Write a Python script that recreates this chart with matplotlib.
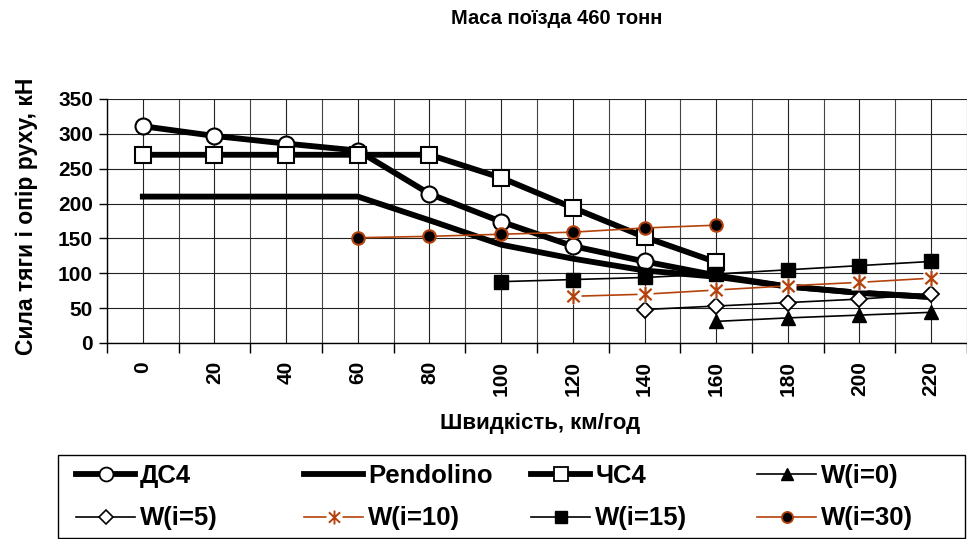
import numpy as np
import matplotlib
matplotlib.use("Agg")
import matplotlib.pyplot as plt
from matplotlib.lines import Line2D
from matplotlib.patches import Rectangle
from matplotlib.path import Path

plt.rcParams['font.family'] = ['Liberation Sans', 'DejaVu Sans']
plt.rcParams['font.weight'] = 'bold'

nan = np.nan

# speed categories, km/h
speeds = ['0', '20', '40', '60', '80', '100', '120', '140', '160', '180', '200', '220']

# traction force of the locomotives, kN
ds4 = [311, 297, 286, 276, 214, 174, 139, 117, 97, 81, 72, 66]
pendolino = [210, 210, 210, 210, 176, 141, 121, 104, 95, 81, 72, 66]
chs4 = [270, 270, 270, 270, 270, 237, 194, 152, 116, nan, nan, nan]

# running resistance for different gradients, kN
w0 = [nan, nan, nan, nan, nan, nan, nan, nan, 31, 36, 40, 44]
w5 = [nan, nan, nan, nan, nan, nan, nan, 48, 53, 58, 63, 70]
w10 = [nan, nan, nan, nan, nan, nan, 67, 70, 76, 82, 87, 93]
w15 = [nan, nan, nan, nan, nan, 88, 91, 94, 99, 105, 111, 117]
w30 = [nan, nan, nan, 151, 153, 156, 159, 165, 169, nan, nan, nan]

ORANGE = '#B4420C'
THICK = 4.2
THIN = 1.2

# asterisk marker: vertical stroke plus a cross
star = Path([(0, -1), (0, 1), (-0.8, -0.75), (0.8, 0.75), (-0.8, 0.75), (0.8, -0.75)],
            [Path.MOVETO, Path.LINETO] * 3)

fig = plt.figure(figsize=(9.67, 5.39), dpi=100)
ax = fig.add_axes([107 / 967, 1 - 343 / 539, (967 - 107) / 967, 244 / 539])

x = np.arange(len(speeds))

ax.plot(x, ds4, color='black', lw=THICK, marker='o', ms=11.5, mfc='white',
        mec='black', mew=1.5, markevery=slice(0, 8), zorder=3)
ax.plot(x, pendolino, color='black', lw=THICK, zorder=3)
ax.plot(x, chs4, color='black', lw=THICK, marker='s', ms=11.5, mfc='white',
        mec='black', mew=1.5, zorder=3)
ax.plot(x, w0, color='black', lw=THIN, marker='^', ms=9.5, mfc='black',
        mec='black', zorder=4)
ax.plot(x, w5, color='black', lw=THIN, marker='D', ms=8, mfc='white',
        mec='black', mew=1.3, zorder=4)
ax.plot(x, w10, color=ORANGE, lw=THIN, zorder=5)
ax.plot(x, w10, ls='none', marker='s', ms=12, mfc='white', mec='none', zorder=5)
ax.plot(x, w10, ls='none', marker=star, ms=11, mfc='none', mec=ORANGE, mew=1.6,
        zorder=5)
ax.plot(x, w15, color='black', lw=THIN, marker='s', ms=9.5, mfc='black',
        mec='black', zorder=6)
ax.plot(x, w30, color=ORANGE, lw=THIN, marker='o', ms=9, mfc='black',
        mec=ORANGE, mew=1.5, zorder=7)

ax.set_xlim(-0.5, len(speeds) - 0.63)
ax.set_ylim(0, 350)
ax.set_yticks(np.arange(0, 351, 50))
ax.set_xticks(x)
ax.set_xticklabels(speeds, rotation=90, fontsize=15, fontweight='bold')
ax.set_xticks(np.arange(-0.5, len(speeds), 1), minor=True)
ax.tick_params(axis='x', which='major', length=0, pad=13)
ax.tick_params(axis='x', which='minor', length=7, width=1, direction='out')
ax.tick_params(axis='y', length=6, width=1, direction='out', pad=4, labelsize=15)
for lbl in ax.get_yticklabels():
    lbl.set_fontweight('bold')

ax.grid(True, which='major', color='#222222', lw=0.8, zorder=0)
ax.grid(True, which='minor', axis='x', color='#444444', lw=0.8, zorder=0)
ax.set_axisbelow(True)
for side in ('top', 'right'):
    ax.spines[side].set_visible(False)
ax.spines['left'].set_linewidth(1)
ax.spines['bottom'].set_linewidth(1)

ax.set_xlabel('Швидкість, км/год', fontsize=16, fontweight='bold')
ax.xaxis.set_label_coords(0.503, -0.285)
ax.set_ylabel('Сила тяги і опір руху, кН', fontsize=16.5, fontweight='bold')
ax.yaxis.set_label_coords(-0.08, 0.52)

fig.text(557 / 967, 1 - 18 / 539, 'Маса поїзда 460 тонн', ha='center', va='center',
         fontsize=14.5, fontweight='bold')

# legend handles
h_ds4 = Line2D([], [], color='black', lw=THICK, marker='o', ms=10, mfc='white',
               mec='black', mew=1.3)
h_pend = Line2D([], [], color='black', lw=THICK)
h_chs4 = Line2D([], [], color='black', lw=THICK, marker='s', ms=10, mfc='white',
                mec='black', mew=1.3)
h_w0 = Line2D([], [], color='black', lw=THIN, marker='^', ms=8.5, mfc='black')
h_w5 = Line2D([], [], color='black', lw=THIN, marker='D', ms=7.5, mfc='white',
              mec='black', mew=1.2)
h_w10 = (Line2D([], [], color=ORANGE, lw=THIN),
         Line2D([], [], ls='none', marker='s', ms=12, mfc='white', mec='none'),
         Line2D([], [], ls='none', marker=star, ms=10, mec=ORANGE, mew=1.4))
h_w15 = Line2D([], [], color='black', lw=THIN, marker='s', ms=8.5, mfc='black')
h_w30 = Line2D([], [], color=ORANGE, lw=THIN, marker='o', ms=8, mfc='black',
               mec=ORANGE, mew=1.3)

columns = [([h_ds4, h_w5], ['ДС4', 'W(i=5)']),
           ([h_pend, h_w10], ['Pendolino', 'W(i=10)']),
           ([h_chs4, h_w15], ['ЧС4', 'W(i=15)']),
           ([h_w0, h_w30], ['W(i=0)', 'W(i=30)'])]
col_x = [76, 304, 531, 757]
for (handles, labels), cx in zip(columns, col_x):
    fig.legend(handles, labels, loc='upper left',
               bbox_to_anchor=(cx / 967, 1 - 464 / 539), frameon=False,
               borderpad=0, borderaxespad=0, handlelength=2.3, handletextpad=0.2,
               labelspacing=0.72, prop={'size': 18.5, 'weight': 'bold'})

fig.add_artist(Rectangle((58 / 967, 1 / 539), 907 / 967, 83 / 539,
                         transform=fig.transFigure, fill=False, edgecolor='black',
                         lw=1))

fig.savefig('out.png', dpi=100)
